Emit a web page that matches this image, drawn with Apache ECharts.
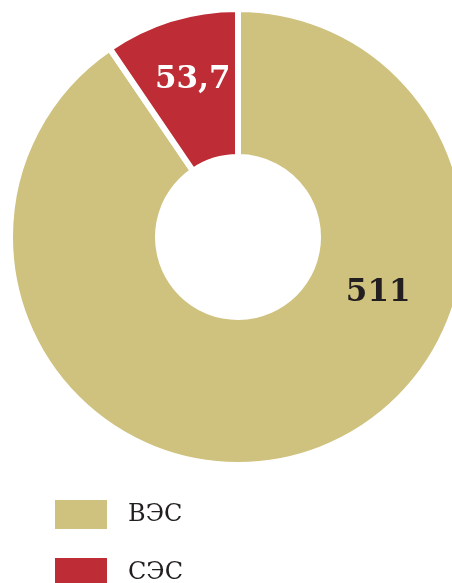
<!DOCTYPE html>
<html>
<head>
<meta charset="utf-8">
<script src="https://cdn.jsdelivr.net/npm/echarts@6/dist/echarts.min.js"></script>
<style>
  html, body { margin: 0; padding: 0; background: #ffffff; }
  #chart { width: 452px; height: 583px; }
</style>
</head>
<body>
<div id="chart"></div>
<script>
// Installed capacity by plant type
const categories = ['ВЭС', 'СЭС'];
const values = [511, 53.7];
const valueLabels = ['511', '53,7'];
const colors = ['#CFC17E', '#BE2C35'];
const labelColors = ['#231F20', '#ffffff'];
const labelOffsets = [[94, -94], [1, -7]];
const legendTops = [498, 556];

const chart = echarts.init(document.getElementById('chart'), null, { renderer: 'canvas' });

const seriesData = categories.map((name, i) => ({
  name: name,
  value: values[i],
  itemStyle: { color: colors[i] },
  label: {
    color: labelColors[i],
    offset: labelOffsets[i],
    formatter: valueLabels[i]
  }
}));

// one legend block per category, stacked vertically
const legends = categories.map((name, i) => ({
  orient: 'vertical',
  left: 53,
  top: legendTops[i],
  padding: 0,
  itemWidth: 54,
  itemHeight: 31,
  icon: 'rect',
  selectedMode: false,
  data: [name],
  textStyle: {
    fontFamily: 'DejaVu Serif',
    fontSize: 24,
    color: '#231F20',
    padding: [0, 0, 0, 15]
  }
}));

chart.setOption({
  animation: false,
  backgroundColor: '#ffffff',
  legend: legends,
  series: [{
    type: 'pie',
    center: [238, 237],
    radius: [80, 228],
    startAngle: 90,
    clockwise: true,
    avoidLabelOverlap: false,
    itemStyle: { borderColor: '#ffffff', borderWidth: 6 },
    label: {
      show: true,
      position: 'inside',
      fontFamily: 'DejaVu Serif',
      fontWeight: 'bold',
      fontSize: 31
    },
    labelLine: { show: false },
    emphasis: { disabled: true },
    data: seriesData
  }]
});
</script>
</body>
</html>
